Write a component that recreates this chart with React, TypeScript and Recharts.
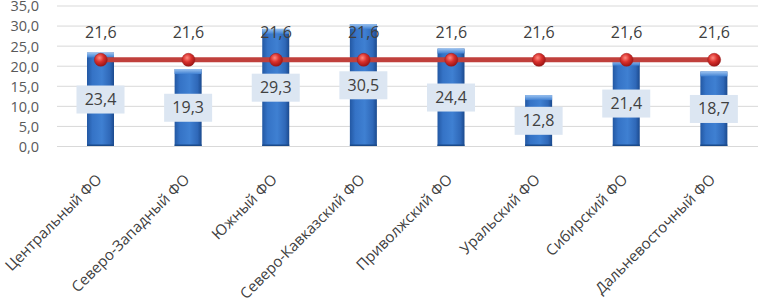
import React from 'react';
import { ComposedChart, Bar, Line, XAxis, YAxis, CartesianGrid, LabelList } from 'recharts';

const categories = ['Центральный ФО', 'Северо-Западный ФО', 'Южный ФО', 'Северо-Кавказский ФО', 'Приволжский ФО', 'Уральский ФО', 'Сибирский ФО', 'Дальневосточный ФО'];
const values = [23.4, 19.3, 29.3, 30.5, 24.4, 12.8, 21.4, 18.7];
const averages = [21.6, 21.6, 21.6, 21.6, 21.6, 21.6, 21.6, 21.6];
const yTicks = [0, 5, 10, 15, 20, 25, 30, 35];

const data = categories.map((c, i) => ({ name: c, value: values[i], avg: averages[i] }));

const FONT = '"Open Sans", "Noto Sans", sans-serif';
const fmt = (v: number) => v.toFixed(1).replace('.', ',');

const BarShape = (props: any) => {
  const { x, y, width, height } = props;
  if (height <= 0) return null;
  return (
    <g>
      <rect x={x} y={y} width={width} height={height} fill="url(#barGrad)" />
      <rect x={x} y={y} width={width} height={Math.min(5, height)} fill="url(#capGrad)" />
      <rect x={x} y={y + height - 2} width={width} height={2} fill="#1a4a8a" />
    </g>
  );
};

const BarLabel = (props: any) => {
  const { x, y, width, height, value } = props;
  const cx = x + width / 2;
  const cy = y + height / 2;
  return (
    <g>
      <rect x={cx - 24} y={cy - 14} width={48} height={28} fill="#dce6f2" />
      <text x={cx} y={cy + 1} textAnchor="middle" dominantBaseline="middle" fontSize={16} fontFamily={FONT} fill="#404040">{fmt(value)}</text>
    </g>
  );
};

const LineLabel = (props: any) => {
  const { x, y, value } = props;
  return (
    <text x={x} y={y - 26} textAnchor="middle" dominantBaseline="middle" fontSize={16} fontFamily={FONT} fill="#404040">{fmt(value)}</text>
  );
};

const Dot = (props: any) => {
  const { cx, cy } = props;
  return <circle cx={cx} cy={cy} r={6.5} fill="url(#dotGrad)" stroke="#9a1c1c" strokeWidth={0.5} />;
};

const XTick = (props: any) => {
  const { x, y, payload } = props;
  const ax = x + 2;
  const ay = y + 26;
  return (
    <text x={ax} y={ay} textAnchor="end" fontSize={15} fontFamily={FONT} fill="#404040" transform={`rotate(-45, ${ax}, ${ay})`}>{payload.value}</text>
  );
};

const YTick = (props: any) => {
  const { y, payload } = props;
  return (
    <text x={39} y={y + 1.5} textAnchor="end" dominantBaseline="middle" fontSize={14.5} fontFamily={FONT} fill="#595959">{fmt(payload.value)}</text>
  );
};

export default function App() {
  return (
    <div style={{ position: 'absolute', left: 0, top: 0, width: 758, height: 306, background: '#fff' }}>
      <ComposedChart width={758} height={306} data={data} margin={{ top: 6, right: 0, bottom: 0, left: 0 }} barCategoryGap={0}>
        <defs>
          <linearGradient id="barGrad" x1="0" y1="0" x2="1" y2="0">
            <stop offset="0" stopColor="#2358a3" />
            <stop offset="0.2" stopColor="#3573c6" />
            <stop offset="0.55" stopColor="#3f80d2" />
            <stop offset="0.85" stopColor="#2f68b8" />
            <stop offset="1" stopColor="#1b4a8e" />
          </linearGradient>
          <linearGradient id="capGrad" x1="0" y1="0" x2="0" y2="1">
            <stop offset="0" stopColor="#9cc3f0" />
            <stop offset="1" stopColor="#3f80d2" />
          </linearGradient>
          <radialGradient id="dotGrad" cx="0.4" cy="0.35" r="0.65">
            <stop offset="0" stopColor="#ff8a80" />
            <stop offset="0.5" stopColor="#d9302c" />
            <stop offset="1" stopColor="#9e1515" />
          </radialGradient>
        </defs>
        <CartesianGrid vertical={false} stroke="#d9d9d9" />
        <XAxis dataKey="name" height={159.5} interval={0} tickLine={false} axisLine={{ stroke: '#d9d9d9' }} tick={<XTick />} />
        <YAxis width={57} domain={[0, 35]} ticks={yTicks} interval={0} tickLine={false} axisLine={false} tick={<YTick />} />
        <Bar dataKey="value" barSize={27} shape={<BarShape />} isAnimationActive={false}>
          <LabelList dataKey="value" content={<BarLabel />} />
        </Bar>
        <Line dataKey="avg" stroke="#c0403c" strokeWidth={5} dot={<Dot />} activeDot={false} isAnimationActive={false}>
          <LabelList dataKey="avg" content={<LineLabel />} />
        </Line>
      </ComposedChart>
    </div>
  );
}
